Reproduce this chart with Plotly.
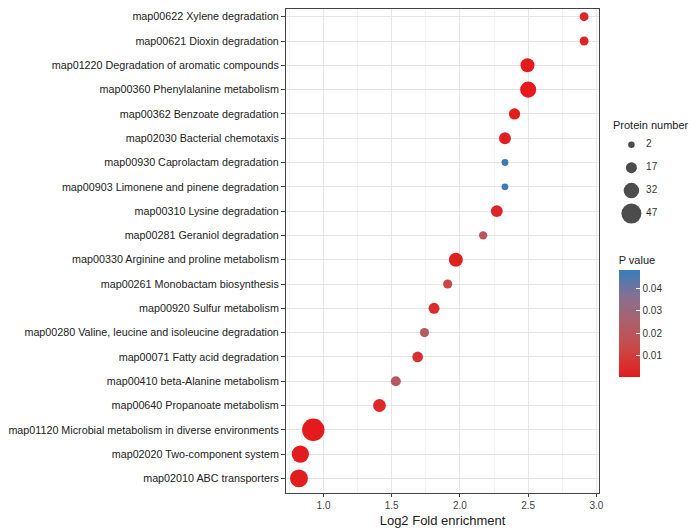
import plotly.graph_objects as go

pathways = [
    "map00622 Xylene degradation",
    "map00621 Dioxin degradation",
    "map01220 Degradation of aromatic compounds",
    "map00360 Phenylalanine metabolism",
    "map00362 Benzoate degradation",
    "map02030 Bacterial chemotaxis",
    "map00930 Caprolactam degradation",
    "map00903 Limonene and pinene degradation",
    "map00310 Lysine degradation",
    "map00281 Geraniol degradation",
    "map00330 Arginine and proline metabolism",
    "map00261 Monobactam biosynthesis",
    "map00920 Sulfur metabolism",
    "map00280 Valine, leucine and isoleucine degradation",
    "map00071 Fatty acid degradation",
    "map00410 beta-Alanine metabolism",
    "map00640 Propanoate metabolism",
    "map01120 Microbial metabolism in diverse environments",
    "map02020 Two-component system",
    "map02010 ABC transporters",
]
log2_fold = [2.91, 2.91, 2.495, 2.50, 2.40, 2.33, 2.33, 2.33, 2.27, 2.17,
             1.97, 1.91, 1.81, 1.74, 1.69, 1.53, 1.41, 0.925, 0.83, 0.82]
protein_number = [10, 10, 27, 34, 18, 20, 3, 3, 20, 8,
                  27, 11, 17, 11, 16, 14, 23, 55, 38, 40]
p_value = [0.003, 0.003, 0.0002, 0.0001, 0.001, 0.002, 0.0486, 0.0475, 0.003, 0.020,
           0.002, 0.013, 0.005, 0.022, 0.006, 0.022, 0.004, 0.0001, 0.001, 0.001]

size_breaks = [2, 17, 32, 47]
pv_ticks = [0.01, 0.02, 0.03, 0.04]
x_ticks = [1.0, 1.5, 2.0, 2.5, 3.0]


def size_px(n):
    return 5.9 + 0.3 * n


colorscale = [
    [0.0, "#E41A1C"],
    [0.25, "rgb(204,71,69)"],
    [0.5, "rgb(175,94,106)"],
    [0.75, "rgb(135,112,145)"],
    [1.0, "#377EB8"],
]

# the page body has an 8px margin, so figure coords = page coords - 8
OFF = 8
W, H = 700 - OFF, 528 - OFF
ML, MR, MT, MB = 280 - OFF, 2, 0, 35
PW = W - ML - MR
PH = H - MT - MB
panel_right = 600 - OFF
row_step = 24.35
y_top = -0.6 + PH / row_step

FONT = "Liberation Sans, Arial, Helvetica, sans-serif"


def px_x(x):
    return (x - OFF - ML) / PW


def px_y(y):
    return (H - MB - (y - OFF)) / PH


fig = go.Figure()

fig.add_trace(go.Scatter(
    x=log2_fold, y=pathways, mode="markers",
    marker=dict(
        size=[size_px(n) for n in protein_number],
        color=p_value, colorscale=colorscale,
        cmin=min(p_value), cmax=max(p_value),
        line=dict(width=0), opacity=1,
        colorbar=dict(
            title=dict(text="P value", side="top",
                       font=dict(family=FONT, size=11, color="#222")),
            tickvals=pv_ticks, ticktext=[f"{v:.2f}" for v in pv_ticks],
            ticks="inside", ticklen=4, tickcolor="white", tickwidth=1,
            tickfont=dict(family=FONT, size=10, color="#333"),
            thickness=21, thicknessmode="pixels",
            len=124, lenmode="pixels",
            x=px_x(620), xanchor="left", xpad=0,
            y=px_y(376.7), yanchor="bottom", ypad=0,
            outlinewidth=0,
        ),
    ),
    showlegend=False, hoverinfo="x+y",
    xaxis="x", yaxis="y",
))

# size legend
fig.add_trace(go.Scatter(
    x=[0] * len(size_breaks), y=list(range(len(size_breaks))),
    mode="markers",
    marker=dict(size=[size_px(n) for n in size_breaks], color="black", line=dict(width=0)),
    showlegend=False, hoverinfo="skip",
    xaxis="x2", yaxis="y2",
))
fig.add_trace(go.Scatter(
    x=[15] * len(size_breaks), y=list(range(len(size_breaks))),
    mode="text", text=[str(v) for v in size_breaks], textposition="middle right",
    textfont=dict(family=FONT, size=10, color="#333"),
    showlegend=False, hoverinfo="skip",
    xaxis="x2", yaxis="y2",
))

fig.add_annotation(
    text="Protein number", xref="paper", yref="paper",
    x=px_x(612), y=px_y(124), xanchor="left", yanchor="middle",
    showarrow=False, font=dict(family=FONT, size=11, color="#222"),
)

font = dict(family=FONT, size=10.75, color="#222")

fig.update_layout(
    width=W, height=H,
    margin=dict(l=ML, r=MR, t=MT, b=MB, pad=0),
    paper_bgcolor="white", plot_bgcolor="white",
    font=font,
    xaxis=dict(
        domain=[0, (panel_right - ML) / PW],
        range=[0.725, 3.02],
        tickvals=x_ticks, ticktext=[f"{v:.1f}" for v in x_ticks],
        ticks="outside", ticklen=3, tickcolor="#444",
        tickfont=dict(family=FONT, size=10, color="#444"),
        showgrid=True, gridcolor="#E6E6E6", gridwidth=1,
        minor=dict(dtick=0.25, tick0=0.75, showgrid=True, gridcolor="#F2F2F2", gridwidth=0.6),
        showline=True, linecolor="#444", linewidth=1, mirror=True,
        zeroline=False,
        title=dict(text="Log2 Fold enrichment", standoff=7,
                   font=dict(family=FONT, size=13, color="#222")),
    ),
    yaxis=dict(
        type="category", categoryorder="array", categoryarray=pathways[::-1],
        range=[-0.6, y_top],
        ticks="outside", ticklen=4, tickcolor="#444",
        tickfont=font,
        showgrid=True, gridcolor="#E6E6E6", gridwidth=1,
        showline=True, linecolor="#444", linewidth=1, mirror=True,
        zeroline=False,
    ),
    xaxis2=dict(
        domain=[px_x(605), 1.0], range=[-28, -28 + (W - MR - (605 - OFF))], anchor="y2",
        visible=False, fixedrange=True,
    ),
    yaxis2=dict(
        domain=[px_y(224), px_y(134)], range=[3 + 11 / 23, -10 / 23], anchor="x2",
        visible=False, fixedrange=True,
    ),
)

fig.write_html("out.html")
